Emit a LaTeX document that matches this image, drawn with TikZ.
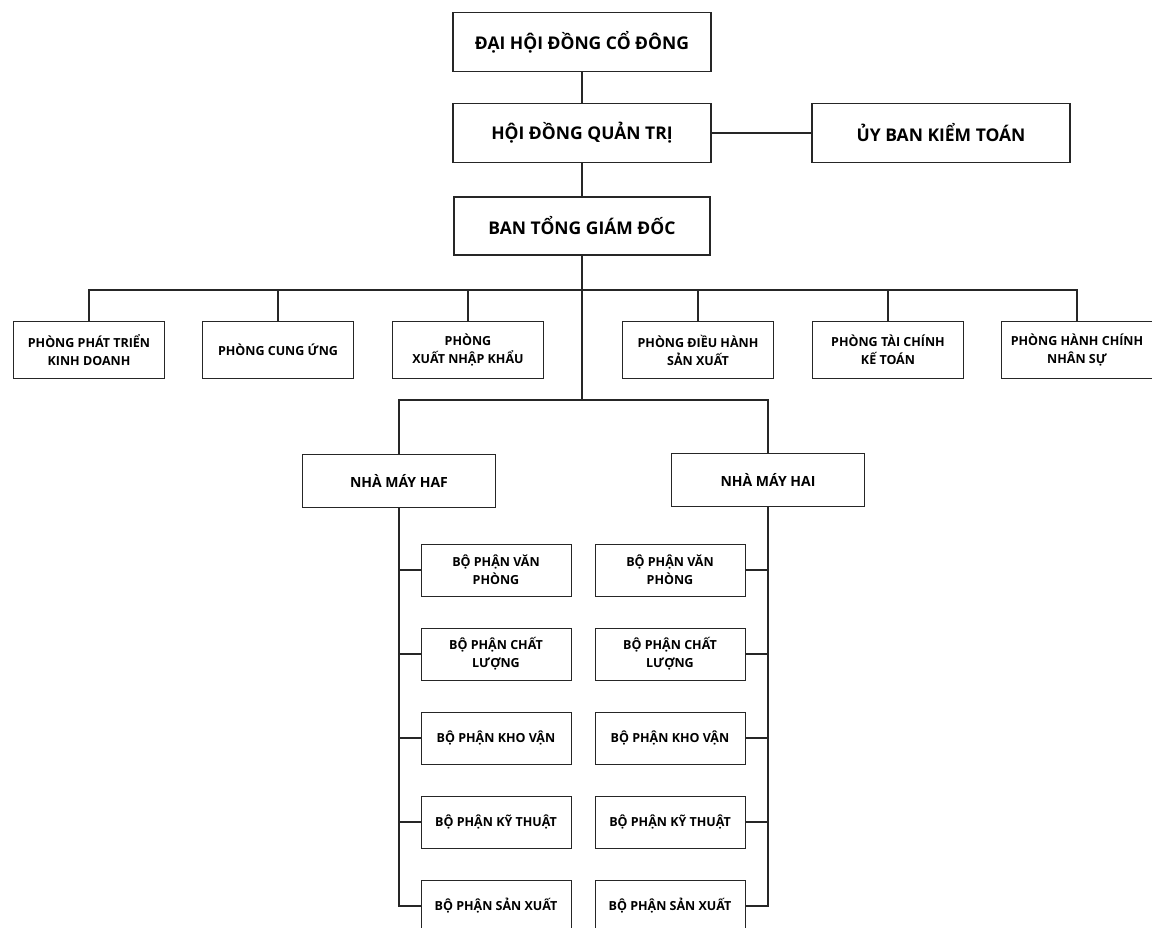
\documentclass[tikz,border=0pt]{standalone}
\usepackage{fontspec}
\setmainfont{Open Sans}
\usetikzlibrary{positioning}

\tikzset{
  bigbox/.style={draw=black!85, line width=1.1pt, minimum width=258pt, minimum height=59pt, inner sep=2pt, font=\fontsize{17.5}{21}\selectfont\bfseries},
  dept/.style={draw=black!85, line width=1pt, minimum width=151pt, minimum height=57pt, inner sep=1pt, align=center, font=\fontsize{12.5}{18}\selectfont\bfseries},
  plant/.style={dept, minimum width=193pt, minimum height=53pt, font=\fontsize{14}{18}\selectfont\bfseries},
  unit/.style={dept, minimum width=150pt, minimum height=52pt},
  link/.style={draw=black!85, line width=1.1pt},
}

\begin{document}
\begin{tikzpicture}[x=1pt,y=-1pt]
  \useasboundingbox (0,0) rectangle (1152,927);
  \clip (0,0) rectangle (1152,927);

  % top levels
  \node[bigbox] (dhd) at (582,42) {ĐẠI HỘI ĐỒNG CỔ ĐÔNG};
  \node[bigbox] (hdqt) at (582,133) {HỘI ĐỒNG QUẢN TRỊ};
  \node[bigbox] (ubkt) at (941,133) {ỦY BAN KIỂM TOÁN};
  \node[bigbox, minimum width=256pt, minimum height=58pt] (btgd) at (582,226) {BAN TỔNG GIÁM ĐỐC};

  % phong ban
  \foreach \n/\x/\txt in {p1/89/{PHÒNG PHÁT TRIỂN\\KINH DOANH}, p2/278/{PHÒNG CUNG ỨNG},
      p3/468/{PHÒNG\\XUẤT NHẬP KHẨU}, p4/698/{PHÒNG ĐIỀU HÀNH\\SẢN XUẤT},
      p5/888/{PHÒNG TÀI CHÍNH\\KẾ TOÁN}, p6/1077/{PHÒNG HÀNH CHÍNH\\NHÂN SỰ}}
    \node[dept] (\n) at (\x,350) {\txt};

  % nha may
  \node[plant] (haf) at (399,481) {NHÀ MÁY HAF};
  \node[plant] (hai) at (768,480) {NHÀ MÁY HAI};

  % bo phan
  \foreach \n/\txt [count=\i from 0] in {vp/{BỘ PHẬN VĂN\\PHÒNG}, cl/{BỘ PHẬN CHẤT\\LƯỢNG},
      kv/{BỘ PHẬN KHO VẬN}, kt/{BỘ PHẬN KỸ THUẬT}, sx/{BỘ PHẬN SẢN XUẤT}} {
    \node[unit] (l\n) at (496,570+84*\i) {\txt};
    \node[unit] (r\n) at (670,570+84*\i) {\txt};
  }

  % lines
  \coordinate (bus1) at (582,290);
  \coordinate (bus2) at (582,400);
  \draw[link] (dhd) -- (hdqt);
  \draw[link] (hdqt) -- (ubkt);
  \draw[link] (hdqt) -- (btgd);
  \draw[link] (btgd.south) -- (bus2);
  \draw[link] (p1.north) |- (bus1) -| (p6.north);
  \foreach \n in {p2,p3,p4,p5}
    \draw[link] (\n.north) -- (\n.north |- bus1);
  \draw[link] (haf.north) |- (bus2) -| (hai.north);
  \draw[link] (haf.south) |- (lsx.west);
  \draw[link] (hai.south) |- (rsx.east);
  \foreach \n in {vp,cl,kv,kt} {
    \draw[link] (l\n.west) -- (l\n.west -| haf.south);
    \draw[link] (r\n.east) -- (r\n.east -| hai.south);
  }
\end{tikzpicture}
\end{document}
